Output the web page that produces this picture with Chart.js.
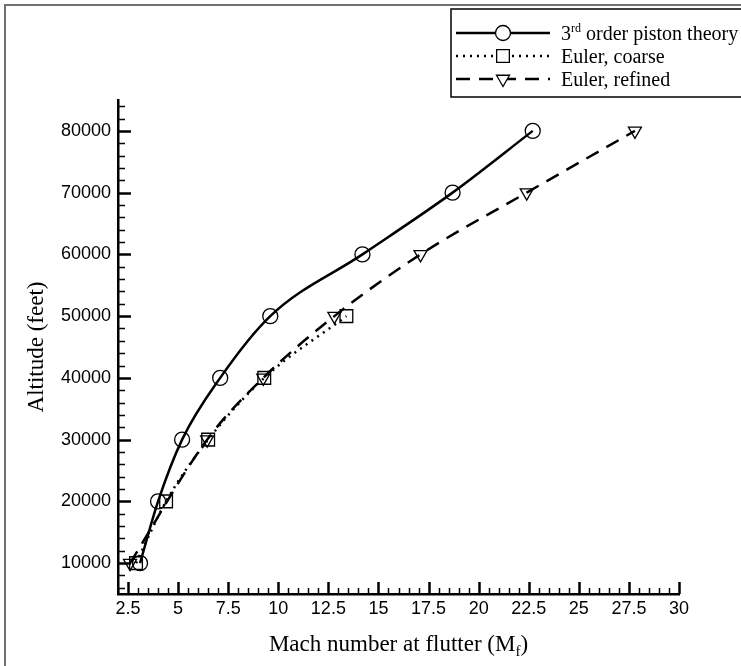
<!DOCTYPE html>
<html>
<head>
<meta charset="utf-8">
<script src="https://cdn.jsdelivr.net/npm/chart.js@4/dist/chart.umd.min.js"></script>
<style>
  html, body { margin: 0; padding: 0; background: #fff; }
  canvas { display: block; }
</style>
</head>
<body>
<canvas id="flutter-chart" width="741" height="666"></canvas>
<script>
// values
const seriesNames = ['3rd order piston theory', 'Euler, coarse', 'Euler, refined'];
const pistonAlt = [10000, 20000, 30000, 40000, 50000, 60000, 70000, 80000];
const pistonMach = [3.1, 4.0, 5.2, 7.1, 9.6, 14.2, 18.7, 22.7];
const coarseAlt = [10000, 20000, 30000, 40000, 50000];
const coarseMach = [2.9, 4.4, 6.5, 9.3, 13.4];
const refinedAlt = [10000, 30000, 40000, 50000, 60000, 70000, 80000];
const refinedMach = [2.6, 6.45, 9.25, 12.8, 17.1, 22.4, 27.8];

const xTicks = [2.5, 5, 7.5, 10, 12.5, 15, 17.5, 20, 22.5, 25, 27.5, 30];
const yTicks = [10000, 20000, 30000, 40000, 50000, 60000, 70000, 80000];
const xMinorStep = 0.5;
const yMinorStep = 2000;

const toPoints = (xs, ys) => xs.map((v, i) => ({ x: v, y: ys[i] }));

const serif = '"Liberation Serif", "Times New Roman", serif';
const sans = '"Liberation Sans", Arial, sans-serif';

// outer frame of the figure
const framePlugin = {
    id: 'frame',
    beforeDraw(c) {
        const ctx = c.ctx;
        ctx.save();
        ctx.fillStyle = '#fff';
        ctx.fillRect(0, 0, c.width, c.height);
        ctx.strokeStyle = '#707070';
        ctx.lineWidth = 2;
        ctx.strokeRect(5, 5, 900, 900);
        ctx.restore();
    }
};

// tick marks pointing into the plot, majors and minors
const inwardTicks = {
    id: 'inwardTicks',
    afterDatasetsDraw(c) {
        const { ctx, scales: { x, y } } = c;
        ctx.save();
        ctx.strokeStyle = '#000';
        for (let v = x.min; v <= x.max + 1e-6; v += xMinorStep) {
            const major = xTicks.some(t => Math.abs(t - v) < 1e-6);
            const px = Math.round(x.getPixelForValue(v)) + 0.5;
            ctx.lineWidth = major ? 2.5 : 1.5;
            ctx.beginPath();
            ctx.moveTo(px, y.bottom);
            ctx.lineTo(px, y.bottom - (major ? 12 : 6));
            ctx.stroke();
        }
        for (let v = y.min + 1000; v <= y.max + 1e-6; v += yMinorStep) {
            const major = yTicks.includes(v);
            const py = Math.round(y.getPixelForValue(v)) + 0.5;
            ctx.lineWidth = major ? 2.5 : 1.5;
            ctx.beginPath();
            ctx.moveTo(x.left, py);
            ctx.lineTo(x.left + (major ? 13 : 7), py);
            ctx.stroke();
        }
        ctx.restore();
    }
};

// x title with the subscript f
const xTitlePlugin = {
    id: 'xTitle',
    afterDraw(c) {
        const { ctx, chartArea } = c;
        const main = 'Mach number at flutter (M';
        const sub = 'f';
        const tail = ')';
        ctx.save();
        ctx.fillStyle = '#000';
        ctx.textBaseline = 'alphabetic';
        ctx.font = '23px ' + serif;
        const w1 = ctx.measureText(main).width;
        const w3 = ctx.measureText(tail).width;
        ctx.font = '15px ' + serif;
        const w2 = ctx.measureText(sub).width;
        const total = w1 + w2 + w3;
        let xx = (chartArea.left + chartArea.right) / 2 - total / 2;
        const base = 651;
        ctx.textAlign = 'left';
        ctx.font = '23px ' + serif;
        ctx.fillText(main, xx, base);
        xx += w1;
        ctx.font = '15px ' + serif;
        ctx.fillText(sub, xx, base + 5);
        xx += w2;
        ctx.font = '23px ' + serif;
        ctx.fillText(tail, xx, base);
        ctx.restore();
    }
};

// boxed legend in the top right corner
const boxLegend = {
    id: 'boxLegend',
    afterDraw(c) {
        const ctx = c.ctx;
        const rows = [33, 56, 79];
        ctx.save();
        ctx.strokeStyle = '#000';
        ctx.lineWidth = 1.5;
        ctx.strokeRect(451, 9, 400, 88);
        c.data.datasets.forEach((ds, i) => {
            const ry = rows[i];
            ctx.save();
            ctx.strokeStyle = ds.borderColor;
            ctx.lineWidth = ds.borderWidth;
            ctx.setLineDash(ds.borderDash || []);
            ctx.beginPath();
            ctx.moveTo(456, ry);
            ctx.lineTo(550, ry);
            ctx.stroke();
            ctx.restore();
            ctx.save();
            ctx.fillStyle = '#fff';
            ctx.strokeStyle = ds.pointBorderColor;
            ctx.lineWidth = ds.pointBorderWidth;
            Chart.helpers.drawPoint(ctx, {
                pointStyle: ds.pointStyle,
                rotation: ds.pointRotation || 0,
                radius: ds.pointRadius,
                borderWidth: ds.pointBorderWidth
            }, 503, ry);
            ctx.restore();
            // label, with ordinal suffix raised
            ctx.fillStyle = '#000';
            ctx.textBaseline = 'alphabetic';
            const base = ry + 7;
            let xx = 561;
            const m = ds.label.match(/^(\d+)(st|nd|rd|th)(.*)$/);
            if (m) {
                ctx.font = '20px ' + serif;
                ctx.fillText(m[1], xx, base);
                xx += ctx.measureText(m[1]).width;
                ctx.font = '12px ' + serif;
                ctx.fillText(m[2], xx, base - 8);
                xx += ctx.measureText(m[2]).width;
                ctx.font = '20px ' + serif;
                ctx.fillText(m[3], xx, base);
            } else {
                ctx.font = '20px ' + serif;
                ctx.fillText(ds.label, xx, base);
            }
        });
        ctx.restore();
    }
};

const ctx = document.getElementById('flutter-chart');

new Chart(ctx, {
    type: 'scatter',
    data: {
        datasets: [
            {
                label: seriesNames[0],
                data: toPoints(pistonMach, pistonAlt),
                showLine: true,
                borderColor: '#000',
                borderWidth: 2.5,
                cubicInterpolationMode: 'monotone',
                pointStyle: 'circle',
                pointRadius: 7.5,
                pointBorderWidth: 1.3,
                pointBorderColor: '#000',
                pointBackgroundColor: 'rgba(0,0,0,0)',
            },
            {
                label: seriesNames[1],
                data: toPoints(coarseMach, coarseAlt),
                showLine: true,
                borderColor: '#000',
                borderWidth: 2.5,
                borderDash: [2, 5],
                cubicInterpolationMode: 'monotone',
                pointStyle: 'rect',
                pointRadius: 9,
                pointBorderWidth: 1.3,
                pointBorderColor: '#000',
                pointBackgroundColor: 'rgba(0,0,0,0)',
            },
            {
                label: seriesNames[2],
                data: toPoints(refinedMach, refinedAlt),
                showLine: true,
                borderColor: '#000',
                borderWidth: 2.5,
                borderDash: [14, 9],
                cubicInterpolationMode: 'monotone',
                pointStyle: 'triangle',
                pointRotation: 180,
                pointRadius: 7.5,
                pointBorderWidth: 1.3,
                pointBorderColor: '#000',
                pointBackgroundColor: 'rgba(0,0,0,0)',
            },
        ],
    },
    options: {
        responsive: false,
        animation: false,
        layout: {
            padding: { top: 100, right: 62, left: 0, bottom: 0 },
        },
        plugins: {
            legend: { display: false },
            tooltip: { enabled: false },
        },
        scales: {
            x: {
                type: 'linear',
                min: 2,
                max: 30,
                afterBuildTicks: (s) => { s.ticks = xTicks.map(v => ({ value: v })); },
                afterFit: (s) => { s.height = 72; },
                grid: { display: false, tickLength: 0 },
                border: { display: true, color: '#000', width: 2.5 },
                ticks: {
                    color: '#000',
                    font: { family: sans, size: 18 },
                    padding: 4,
                    maxRotation: 0,
                    autoSkip: false,
                    callback: (v) => String(v),
                },
            },
            y: {
                type: 'linear',
                min: 5000,
                max: 85000,
                afterBuildTicks: (s) => { s.ticks = yTicks.map(v => ({ value: v })); },
                afterFit: (s) => { s.width = 118; },
                grid: { display: false, tickLength: 0 },
                border: { display: true, color: '#000', width: 2.5 },
                ticks: {
                    color: '#000',
                    font: { family: sans, size: 18 },
                    padding: 7,
                    autoSkip: false,
                    callback: (v) => String(v),
                },
                title: {
                    display: true,
                    text: 'Altitude (feet)',
                    color: '#000',
                    font: { family: serif, size: 23 },
                    padding: { top: 23, bottom: 0 },
                },
            },
        },
    },
    plugins: [framePlugin, inwardTicks, xTitlePlugin, boxLegend],
});
</script>
</body>
</html>
